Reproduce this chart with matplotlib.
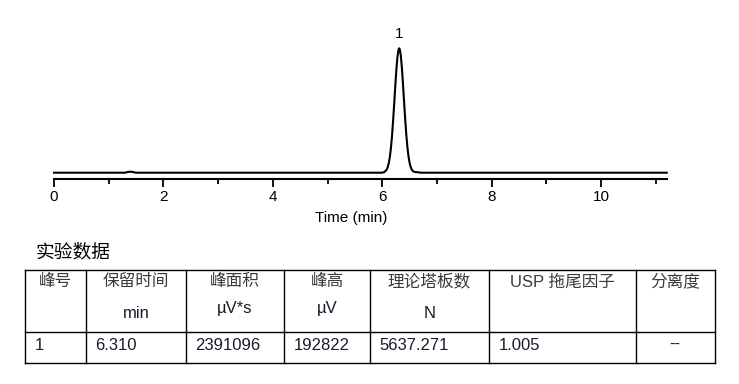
import matplotlib
matplotlib.use("Agg")
import matplotlib.pyplot as plt

# ---- chromatogram data (time in min, signal in µV) ----
time_min = [0.00, 1.30, 1.36, 1.42, 1.50, 6.00, 6.04, 6.08, 6.10, 6.12, 6.14, 6.16,
            6.18, 6.20, 6.22, 6.24, 6.26, 6.28, 6.30, 6.31, 6.32, 6.34, 6.36, 6.38,
            6.40, 6.42, 6.44, 6.46, 6.48, 6.50, 6.52, 6.54, 6.56, 6.60, 6.66, 6.70, 11.20]
signal_uv = [0, 0, 1400, 1400, 0, 0, 1100, 4500, 8500, 14900, 24900, 39100,
             58200, 81800, 108600, 136300, 161500, 180900, 191500, 192822, 191500, 181300, 161800, 136800,
             109200, 82500, 58900, 39700, 25400, 15300, 8800, 4800, 2500, 900, 700, 0, 0]

peak_labels = ["1"]
peak_times = [6.31]
peak_heights = [192822]

major_ticks = [0, 2, 4, 6, 8, 10]
minor_ticks = [1, 3, 5, 7, 9, 11]
x_label = "Time (min)"

# ---- table data ----
table_title = "实验数据"
header_row1 = ["峰号", "保留时间", "峰面积", "峰高", "理论塔板数", "USP 拖尾因子", "分离度"]
header_row2 = ["", "min", "µV*s", "µV", "N", "", ""]
data_row = ["1", "6.310", "2391096", "192822", "5637.271", "1.005", "--"]

W, H = 739, 384
fig = plt.figure(figsize=(W / 100, H / 100), dpi=100)

LAT = ["Liberation Sans", "Noto Sans CJK SC", "DejaVu Sans"]
CJK = ["Noto Sans CJK SC", "Liberation Sans", "DejaVu Sans"]

# ---- chromatogram axes ----
ax_l, ax_r, ax_b, ax_t = 54, 666.7, 179, 20
ax = fig.add_axes([ax_l / W, 1 - ax_b / H, (ax_r - ax_l) / W, (ax_b - ax_t) / H])
ax.plot(time_min, signal_uv, color="black", lw=1.5, clip_on=False, solid_joinstyle="round")
ax.set_xlim(0, 11.2)
uv_per_px = 192822 / 124.4
ax.set_ylim(-6.3 * uv_per_px, (172.7 - 20) * uv_per_px)
for s in ["top", "right", "left"]:
    ax.spines[s].set_visible(False)
ax.spines["bottom"].set_linewidth(1.5)
ax.set_yticks([])
ax.set_xticks(major_ticks)
ax.set_xticks(minor_ticks, minor=True)
ax.set_xticklabels([str(t) for t in major_ticks], family=LAT, fontsize=11)
ax.tick_params(axis="x", which="major", length=6, width=1.3, direction="out", pad=2, colors="black")
ax.tick_params(axis="x", which="minor", length=3.8, width=1.3, direction="out")
for lab, t, h in zip(peak_labels, peak_times, peak_heights):
    ax.annotate(lab, (t, h), xytext=(0, 5), textcoords="offset points",
                ha="center", va="bottom", fontsize=11, family=LAT)

# ---- overlay in pixel coordinates for x-label and table ----
ov = fig.add_axes([0, 0, 1, 1])
ov.set_xlim(0, W)
ov.set_ylim(H, 0)
ov.axis("off")
ov.patch.set_alpha(0)

ov.text(351.5, 218.3, x_label, ha="center", va="center", fontsize=11, family=LAT)

ov.text(35.5, 251.7, table_title, ha="left", va="center", fontsize=13.5, family=CJK, color="black")

col_x = [25, 86, 186, 284, 370, 489, 636, 715]
row_y = [270, 332, 363]
lw = 1.0
for y in row_y:
    ov.plot([col_x[0], col_x[-1]], [y, y], color="black", lw=lw, solid_capstyle="projecting")
for x in col_x:
    ov.plot([x, x], [row_y[0], row_y[-1]], color="black", lw=lw, solid_capstyle="projecting")

row2_y = [0, 313, 308, 308, 314, 0, 0]
for i, txt in enumerate(header_row1):
    cx = (col_x[i] + col_x[i + 1]) / 2
    ov.text(cx, 281.7, txt, ha="center", va="center", fontsize=12, family=LAT, color="#3a3a3a")
for i, txt in enumerate(header_row2):
    if txt:
        cx = (col_x[i] + col_x[i + 1]) / 2
        ov.text(cx, row2_y[i], txt, ha="center", va="center", fontsize=12, family=LAT, color="#1a1a2a")
for i, txt in enumerate(data_row):
    if txt == "--":
        cx = (col_x[i] + col_x[i + 1]) / 2
        ov.text(cx - 1, 344, txt, ha="center", va="center", fontsize=12, family=LAT, color="#1a1a2a")
    else:
        ov.text(col_x[i] + 9.5, 346, txt, ha="left", va="center", fontsize=12, family=LAT, color="#1a1a2a")

fig.savefig("out.png", dpi=100)
